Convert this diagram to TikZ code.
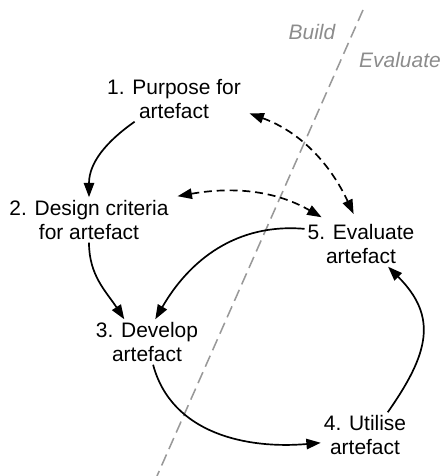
\documentclass[tikz,border=0pt]{standalone}
\usepackage{fontspec}
\setmainfont{Liberation Sans}
\usetikzlibrary{arrows.meta}
\begin{document}
\begin{tikzpicture}[scale=1,
    every node/.style={font=\fontsize{14.9pt}{17pt}\selectfont, align=center, inner sep=2pt},
    flow/.style={line width=1.2pt, -{Triangle[length=0.36cm,width=0.26cm]}},
    link/.style={line width=1.2pt, dash pattern=on 0.2cm off 0.12cm, shorten <=0.15cm, shorten >=0.2cm,
      {Triangle[length=0.36cm,width=0.26cm]}-{Triangle[length=0.36cm,width=0.26cm]}},
    divider/.style={black!40, line width=1.1pt, dash pattern=on 0.3cm off 0.15cm},
    side/.style={text=black!45, font=\fontsize{14.9pt}{17pt}\selectfont\itshape}]
    \useasboundingbox (0,0) rectangle (11.025,11.9);

    % Divider
    \coordinate (top) at (9.075,11.65);
    \coordinate (bottom) at (3.925,0);
    \draw[divider] (top) -- (bottom);
    \node[side] (build) at (7.8,11.1) {Build};
    \node[side] (evaluate) at (10.0,10.4) {Evaluate};

    % Define the nodes
    \node (purpose) at (4.35,9.425) {1. Purpose for\\artefact};
    \node (criteria) at (2.225,6.4) {2. Design criteria\\for artefact};
    \node (develop) at (3.675,3.35) {3. Develop\\artefact};
    \node (utilise) at (9.125,1.025) {4. Utilise\\artefact};
    \node (assess) at (9.025,5.8) {5. Evaluate\\artefact};

    % Connect the nodes
    \draw[flow] (purpose.210) to[out=215, in=90] (criteria.north);
    \draw[flow] (criteria.south) to[out=270, in=123] (develop.135);
    \draw[flow] (assess.165) to[out=175, in=60] (develop.70);
    \draw[flow] (develop.-75) to[out=-75, in=185] (utilise.190);
    \draw[flow] (utilise.45) to[out=55, in=-45, looseness=1.25] (assess.-40);

    % Feedback
    \draw[link] (purpose.-10) to[out=-20, in=115] (assess.100);
    \draw[link] (criteria.north east) to[out=10, in=150] (assess.145);
\end{tikzpicture}
\end{document}
